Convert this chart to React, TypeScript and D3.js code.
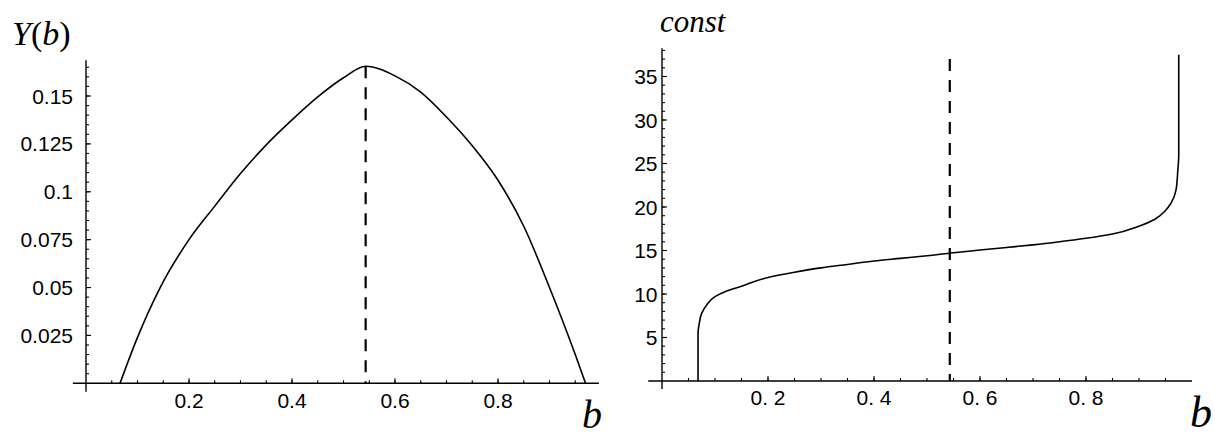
import React from "react";
import * as d3 from "d3";

// ---- data ----
const leftB = [0.066, 0.1, 0.144, 0.2, 0.25, 0.3, 0.35, 0.4, 0.45, 0.5, 0.543, 0.6, 0.65, 0.7, 0.75, 0.8, 0.85, 0.9, 0.95, 0.97];
const leftY = [0, 0.024, 0.05, 0.075, 0.0925, 0.1095, 0.1245, 0.1375, 0.1495, 0.1595, 0.1655, 0.1605, 0.152, 0.139, 0.124, 0.106, 0.082, 0.05, 0.015, 0];

const rightB = [0.068, 0.068, 0.07, 0.075, 0.085, 0.1, 0.12, 0.15, 0.2, 0.25, 0.3, 0.35, 0.4, 0.45, 0.5, 0.55, 0.6, 0.65, 0.7, 0.75, 0.8, 0.85, 0.9, 0.93, 0.95, 0.96, 0.97, 0.973, 0.975, 0.975];
const rightC = [0, 5.5, 6.5, 7.8, 8.8, 9.7, 10.3, 10.9, 11.9, 12.5, 13.0, 13.4, 13.8, 14.1, 14.4, 14.75, 15.05, 15.35, 15.65, 16.0, 16.4, 16.9, 17.8, 18.6, 19.6, 20.4, 22.0, 24.0, 26.0, 37.5];

const bStar = 0.543;
const leftPeak = 0.1655;
const rightDashTop = 37.0;

const leftXTicks = [0.2, 0.4, 0.6, 0.8];
const leftYTicks = [0.025, 0.05, 0.075, 0.1, 0.125, 0.15];
const leftYLabels = ["0.025", "0.05", "0.075", "0.1", "0.125", "0.15"];
const rightXTicks = [0.2, 0.4, 0.6, 0.8];
const rightXLabels = ["0. 2", "0. 4", "0. 6", "0. 8"];
const rightYTicks = [5, 10, 15, 20, 25, 30, 35];

const SANS = "'Liberation Sans', Arial, sans-serif";
const SERIF = "'Liberation Serif', 'Times New Roman', serif";

export default function App() {
  // left panel scales
  const lx = d3.scaleLinear().domain([0, 1]).range([86, 601]);
  const ly = d3.scaleLinear().domain([0, 0.15]).range([383.3, 96]);
  // right panel scales
  const rx = d3.scaleLinear().domain([0, 1]).range([662, 1192]);
  const ry = d3.scaleLinear().domain([0, 35]).range([381, 76.5]);

  const leftLine = d3
    .line<number>()
    .x((_, i) => lx(leftB[i]))
    .y((d) => ly(d))
    .curve(d3.curveMonotoneX);
  const rightLine = d3
    .line<number>()
    .x((_, i) => rx(rightB[i]))
    .y((d) => ry(d))
    .curve(d3.curveMonotoneY);

  const lMinorX = d3.range(0.05, 0.951, 0.05);
  const lMinorY = d3.range(0.005, 0.1651, 0.005);
  const rMinorX = d3.range(0.05, 0.951, 0.05);
  const rMinorY = d3.range(1, 38.01, 1);

  const axis = { stroke: "#000", strokeWidth: 1.4 };
  const tick = { stroke: "#000", strokeWidth: 1.1 };

  return (
    <svg width={1215} height={437} style={{ position: "absolute", left: 0, top: 0, background: "#fff" }}>
      <rect x={0} y={0} width={1215} height={437} fill="#fff" />
      {/* ===== LEFT PANEL ===== */}
      <g>
        <line x1={lx(-0.0255)} x2={lx(0.996)} y1={ly(0)} y2={ly(0)} {...axis} />
        <line x1={lx(0)} x2={lx(0)} y1={ly(-0.0044)} y2={ly(0.1687)} {...axis} />
        {lMinorX.map((v, i) => (
          <line key={"lmx" + i} x1={lx(v)} x2={lx(v)} y1={ly(0)} y2={ly(0) - 3} {...tick} />
        ))}
        {leftXTicks.map((v, i) => (
          <line key={"lMx" + i} x1={lx(v)} x2={lx(v)} y1={ly(0)} y2={ly(0) - 5} {...tick} />
        ))}
        {lMinorY.map((v, i) => (
          <line key={"lmy" + i} x1={lx(0)} x2={lx(0) + 3} y1={ly(v)} y2={ly(v)} {...tick} />
        ))}
        {leftYTicks.map((v, i) => (
          <line key={"lMy" + i} x1={lx(0)} x2={lx(0) + 5} y1={ly(v)} y2={ly(v)} {...tick} />
        ))}
        {leftXTicks.map((v, i) => (
          <text key={"lxl" + i} x={lx(v)} y={408} textAnchor="middle" fontFamily={SANS} fontSize={21}>
            {String(v)}
          </text>
        ))}
        {leftYTicks.map((v, i) => (
          <text key={"lyl" + i} x={73} y={ly(v)} dy="0.36em" textAnchor="end" fontFamily={SANS} fontSize={21}>
            {leftYLabels[i]}
          </text>
        ))}
        <path d={leftLine(leftY) || ""} fill="none" stroke="#000" strokeWidth={1.6} strokeLinejoin="round" />
        <line x1={lx(bStar)} x2={lx(bStar)} y1={ly(leftPeak)} y2={ly(0)} stroke="#000" strokeWidth={2.2} strokeDasharray="12,9" />
        <text x={12} y={45} fontFamily={SERIF} fontSize={34}>
          <tspan fontStyle="italic">Y</tspan>
          <tspan>(</tspan>
          <tspan fontStyle="italic">b</tspan>
          <tspan>)</tspan>
        </text>
        <text x={582} y={428} fontFamily={SERIF} fontStyle="italic" fontSize={40}>b</text>
      </g>

      {/* ===== RIGHT PANEL ===== */}
      <g>
        <line x1={rx(-0.026)} x2={rx(1.0)} y1={ry(0)} y2={ry(0)} {...axis} />
        <line x1={rx(0)} x2={rx(0)} y1={ry(-0.92)} y2={ry(38.24)} {...axis} />
        {rMinorX.map((v, i) => (
          <line key={"rmx" + i} x1={rx(v)} x2={rx(v)} y1={ry(0)} y2={ry(0) - 3} {...tick} />
        ))}
        {rightXTicks.map((v, i) => (
          <line key={"rMx" + i} x1={rx(v)} x2={rx(v)} y1={ry(0)} y2={ry(0) - 5} {...tick} />
        ))}
        {rMinorY.map((v, i) => (
          <line key={"rmy" + i} x1={rx(0)} x2={rx(0) + 3} y1={ry(v)} y2={ry(v)} {...tick} />
        ))}
        {rightYTicks.map((v, i) => (
          <line key={"rMy" + i} x1={rx(0)} x2={rx(0) + 5} y1={ry(v)} y2={ry(v)} {...tick} />
        ))}
        {rightXTicks.map((v, i) => (
          <text key={"rxl" + i} x={rx(v)} y={405} textAnchor="middle" fontFamily={SANS} fontSize={21} style={{ whiteSpace: "pre" }}>
            {rightXLabels[i]}
          </text>
        ))}
        {rightYTicks.map((v, i) => (
          <text key={"ryl" + i} x={657.5} y={ry(v)} dy="0.36em" textAnchor="end" fontFamily={SANS} fontSize={21}>
            {String(v)}
          </text>
        ))}
        <path d={rightLine(rightC) || ""} fill="none" stroke="#000" strokeWidth={1.6} strokeLinejoin="round" />
        <line x1={rx(bStar)} x2={rx(bStar)} y1={ry(rightDashTop)} y2={ry(0)} stroke="#000" strokeWidth={2.2} strokeDasharray="12,9" />
        <text x={660} y={32} fontFamily={SERIF} fontStyle="italic" fontSize={31}>const</text>
        <text x={1190} y={427} fontFamily={SERIF} fontStyle="italic" fontSize={44}>b</text>
      </g>
    </svg>
  );
}
